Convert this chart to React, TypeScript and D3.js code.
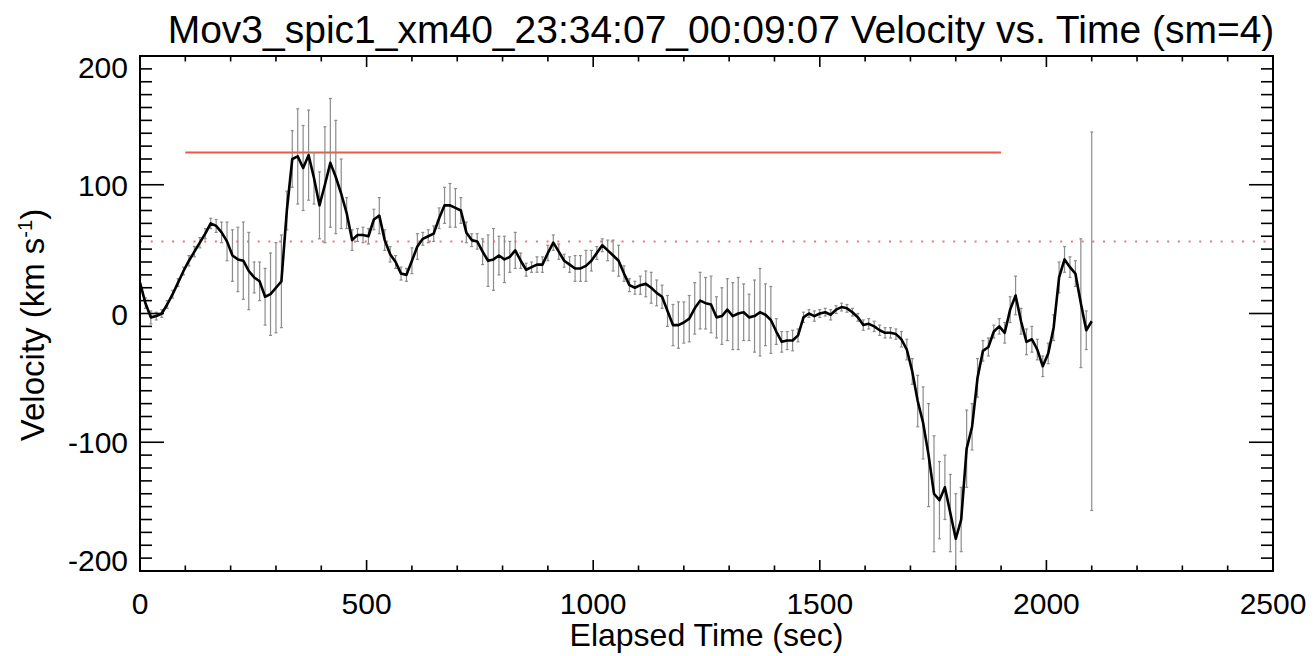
import { useEffect, useRef } from 'react';
import * as d3 from 'd3';

// sample spacing of the velocity series (sec)
const cadence = 12;

const velocity = [
  24, 8, -3, -2, 0, 7, 15, 24, 33, 41, 48, 55, 62, 70, 68, 63, 56, 45, 42, 41,
  33, 28, 25, 13, 15, 20, 25, 80, 120, 122, 113, 123, 105, 84, 100, 117, 106, 93, 78, 57,
  61, 61, 60, 73, 76, 57, 46, 40, 31, 30, 41, 52, 58, 60, 62, 74, 84, 84, 82, 80,
  63, 57, 56, 48, 41, 42, 45, 42, 44, 49, 41, 34, 36, 38, 38, 47, 55, 48, 41, 38,
  35, 35, 37, 41, 47, 53, 49, 45, 41, 31, 22, 20, 22, 23, 20, 16, 13, 2, -9, -9,
  -7, -4, 4, 10, 8, 7, -3, -2, 3, -2, 0, 1, -3, -2, 1, -1, -5, -14, -22, -21,
  -21, -17, -3, 0, -2, 0, 1, -1, 3, 5, 4, 1, -3, -9, -8, -10, -13, -15, -15, -16,
  -20, -28, -45, -68, -85, -110, -140, -145, -135, -155, -175, -160, -105, -88, -50, -29, -26, -14, -10, -15,
  3, 14, -6, -22, -20, -28, -41, -31, -11, 28, 42, 36, 31, 8, -13, -6,
];

const velocityErr = [
  4, 4, 5, 3, 3, 3, 3, 3, 3, 4, 4, 4, 4, 4, 5, 8, 15, 20, 25, 30,
  30, 12, 15, 22, 32, 35, 36, 15, 22, 37, 33, 35, 20, 26, 45, 50, 44, 27, 12, 8,
  5, 6, 6, 8, 14, 8, 6, 5, 5, 5, 10, 10, 5, 5, 6, 8, 14, 17, 15, 10,
  8, 5, 6, 10, 20, 24, 15, 18, 12, 14, 6, 5, 4, 6, 6, 6, 6, 6, 5, 6,
  10, 10, 12, 8, 5, 5, 8, 12, 12, 6, 5, 5, 7, 10, 12, 10, 9, 12, 16, 18,
  16, 18, 20, 22, 20, 22, 16, 22, 24, 26, 28, 22, 18, 28, 34, 24, 26, 10, 8, 7,
  8, 5, 4, 3, 4, 3, 3, 4, 3, 3, 3, 3, 3, 4, 4, 4, 4, 4, 4, 4,
  6, 8, 10, 20, 28, 40, 45, 30, 25, 30, 35, 25, 30, 18, 15, 8, 7, 5, 6, 8,
  10, 15, 10, 10, 10, 8, 8, 8, 10, 12, 10, 8, 10, 50, 15, 147,
];

// reference levels
const peakLevel = 125;
const peakSpan = [100, 1900];
const meanLevel = 56;

const xTicks = [0, 500, 1000, 1500, 2000, 2500];
const yTicks = [-200, -100, 0, 100, 200];

const title = 'Mov3_spic1_xm40_23:34:07_00:09:07 Velocity vs. Time (sm=4)';

export default function App() {
  const svgRef = useRef<SVGSVGElement>(null);

  useEffect(() => {
    if (!svgRef.current) return;
    const svg = d3.select(svgRef.current);
    svg.selectAll('*').remove();

    const left = 140;
    const right = 1273;
    const top = 56;
    const bottom = 571;
    const font = 'Liberation Sans, Arial, Helvetica, sans-serif';

    const x = d3.scaleLinear().domain([0, 2500]).range([left, right]);
    const y = d3.scaleLinear().domain([-200, 200]).range([bottom, top]);

    const pts = velocity.map((v, i) => ({ t: i * cadence, v, e: velocityErr[i] }));

    const plot = svg.append('g');

    // clip so error bars don't leave the frame
    svg
      .append('defs')
      .append('clipPath')
      .attr('id', 'frame-clip')
      .append('rect')
      .attr('x', left)
      .attr('y', top)
      .attr('width', right - left)
      .attr('height', bottom - top);

    const inner = plot.append('g').attr('clip-path', 'url(#frame-clip)');

    // dotted mean level
    inner
      .append('line')
      .attr('x1', left)
      .attr('x2', right)
      .attr('y1', y(meanLevel))
      .attr('y2', y(meanLevel))
      .attr('stroke', '#e27c7c')
      .attr('stroke-width', 2)
      .attr('stroke-dasharray', '2 8.7');

    // solid peak level
    inner
      .append('line')
      .attr('x1', x(peakSpan[0]))
      .attr('x2', x(peakSpan[1]))
      .attr('y1', y(peakLevel))
      .attr('y2', y(peakLevel))
      .attr('stroke', '#ec5a45')
      .attr('stroke-width', 2);

    // error bars
    const bars = inner.append('g').attr('stroke', '#8c8c8c').attr('stroke-width', 1.2);
    pts.forEach((d) => {
      const cx = x(d.t);
      bars
        .append('line')
        .attr('x1', cx)
        .attr('x2', cx)
        .attr('y1', y(d.v + d.e))
        .attr('y2', y(d.v - d.e));
      [d.v + d.e, d.v - d.e].forEach((yy) => {
        bars
          .append('line')
          .attr('x1', cx - 1.5)
          .attr('x2', cx + 1.5)
          .attr('y1', y(yy))
          .attr('y2', y(yy));
      });
    });

    // velocity curve
    const line = d3
      .line<{ t: number; v: number }>()
      .x((d) => x(d.t))
      .y((d) => y(d.v));

    inner
      .append('path')
      .datum(pts)
      .attr('fill', 'none')
      .attr('stroke', '#000')
      .attr('stroke-width', 2.6)
      .attr('stroke-linejoin', 'round')
      .attr('d', line);

    // frame
    plot
      .append('rect')
      .attr('x', left)
      .attr('y', top)
      .attr('width', right - left)
      .attr('height', bottom - top)
      .attr('fill', 'none')
      .attr('stroke', '#000')
      .attr('stroke-width', 2);

    // ticks, IDL style: inward on all four sides
    const ticks = plot.append('g').attr('stroke', '#000').attr('stroke-width', 1.6);
    d3.range(0, 2501, 100).forEach((t) => {
      const len = t % 500 === 0 ? 11 : 5.5;
      const px = x(t);
      ticks.append('line').attr('x1', px).attr('x2', px).attr('y1', bottom).attr('y2', bottom - len);
      ticks.append('line').attr('x1', px).attr('x2', px).attr('y1', top).attr('y2', top + len);
    });
    d3.range(-200, 201, 10).forEach((v) => {
      const len = v % 100 === 0 ? 24 : 12;
      const py = y(v);
      ticks.append('line').attr('x1', left).attr('x2', left + len).attr('y1', py).attr('y2', py);
      ticks.append('line').attr('x1', right).attr('x2', right - len).attr('y1', py).attr('y2', py);
    });

    // tick labels (plain hyphen minus, like the original)
    const labels = svg
      .append('g')
      .attr('font-family', font)
      .attr('font-size', 30)
      .attr('fill', '#000');

    xTicks.forEach((t) => {
      labels
        .append('text')
        .attr('x', x(t))
        .attr('y', 614)
        .attr('text-anchor', 'middle')
        .text(String(t));
    });

    yTicks.forEach((v) => {
      let by = y(v) + 11;
      if (v === 200) by = y(v) + 22;
      if (v === -200) by = y(v);
      labels
        .append('text')
        .attr('x', 128)
        .attr('y', by)
        .attr('text-anchor', 'end')
        .text(String(v));
    });

    // axis titles
    svg
      .append('text')
      .attr('x', (left + right) / 2)
      .attr('y', 646)
      .attr('text-anchor', 'middle')
      .attr('font-family', font)
      .attr('font-size', 32)
      .text('Elapsed Time (sec)');

    const yl = svg
      .append('text')
      .attr('transform', `translate(44, 325) rotate(-90)`)
      .attr('text-anchor', 'middle')
      .attr('font-family', font)
      .attr('font-size', 33);
    yl.append('tspan').text('Velocity (km s');
    yl.append('tspan').attr('font-size', 20).attr('dy', -12).text('-1');
    yl.append('tspan').attr('dy', 12).text(')');

    svg
      .append('text')
      .attr('x', 721)
      .attr('y', 43)
      .attr('text-anchor', 'middle')
      .attr('font-family', font)
      .attr('font-size', 39)
      .text(title);
  }, []);

  return (
    <svg
      ref={svgRef}
      width={1314}
      height={656}
      style={{ position: 'absolute', left: 0, top: 0, background: '#fff' }}
    />
  );
}
